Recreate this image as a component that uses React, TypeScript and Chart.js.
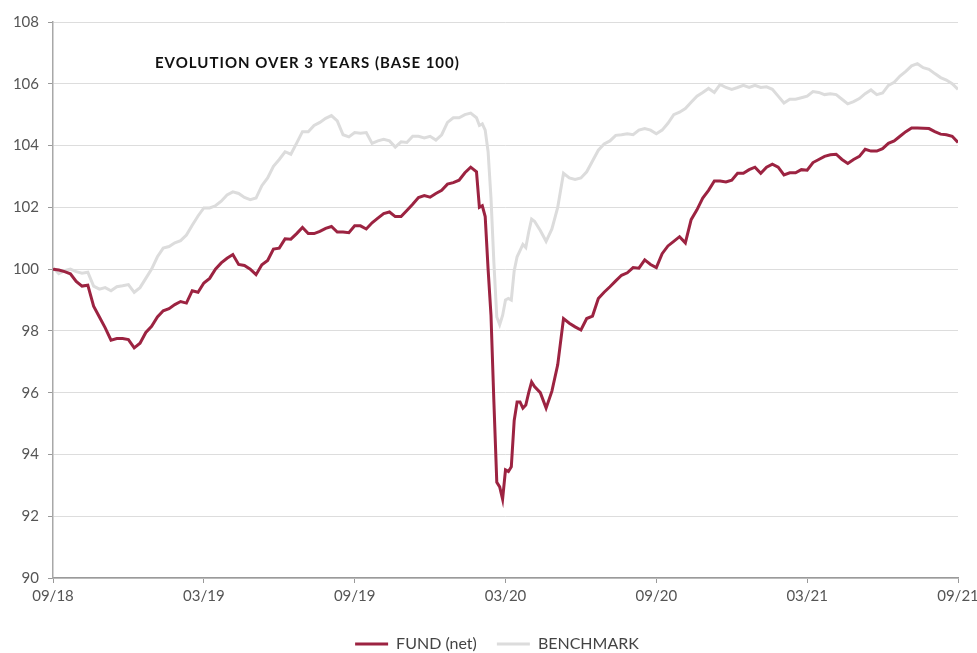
import React, { useEffect, useRef } from 'react';
import { Chart, registerables } from 'chart.js';

Chart.register(...registerables);

// x positions in weeks since 09/18 (half-week points around the March 2020 crash)
const weeks = [
  0, 1, 2, 3, 4, 5, 6, 7, 8, 9,
  10, 11, 12, 13, 14, 15, 16, 17, 18, 19,
  20, 21, 22, 23, 24, 25, 26, 27, 28, 29,
  30, 31, 32, 33, 34, 35, 36, 37, 38, 39,
  40, 41, 42, 43, 44, 45, 46, 47, 48, 49,
  50, 51, 52, 53, 54, 55, 56, 57, 58, 59,
  60, 61, 62, 63, 64, 65, 66, 67, 68, 69,
  70, 71, 72, 73,
  73.5, 74, 74.5, 75, 75.5, 76, 76.5, 77, 77.5, 78,
  78.5, 79, 79.5, 80, 80.5, 81, 81.5, 82, 82.5, 83,
  84, 85, 86, 87, 88, 89, 90, 91, 92, 93,
  94, 95, 96, 97, 98, 99, 100, 101, 102, 103,
  104, 105, 106, 107, 108, 109, 110, 111, 112, 113,
  114, 115, 116, 117, 118, 119, 120, 121, 122, 123,
  124, 125, 126, 127, 128, 129, 130, 131, 132, 133,
  134, 135, 136, 137, 138, 139, 140, 141, 142, 143,
  144, 145, 146, 147, 148, 149, 150, 151, 152, 153,
  154, 155, 156,
];

const fundNet = [
  100.0, 99.97, 99.92, 99.85, 99.6, 99.45, 99.48, 98.8, 98.45, 98.1,
  97.7, 97.75, 97.75, 97.72, 97.45, 97.6, 97.95, 98.15, 98.45, 98.65,
  98.72, 98.85, 98.95, 98.9, 99.3, 99.25, 99.55, 99.7, 100.0, 100.2,
  100.35, 100.47, 100.15, 100.12, 100.0, 99.82, 100.14, 100.28, 100.65, 100.68,
  100.98, 100.97, 101.15, 101.35, 101.15, 101.15, 101.22, 101.32, 101.38, 101.2,
  101.2, 101.18, 101.4, 101.4, 101.3, 101.5, 101.65, 101.8, 101.85, 101.7,
  101.7, 101.9, 102.1, 102.32, 102.38, 102.33, 102.45, 102.55, 102.75, 102.8,
  102.88, 103.12, 103.3, 103.15,
  102.0, 102.05, 101.7, 100.0, 98.5, 95.7, 93.1, 92.95, 92.55, 93.5,
  93.45, 93.6, 95.1, 95.7, 95.7, 95.5, 95.6, 96.0, 96.35, 96.2,
  96.0, 95.5, 96.05, 96.9, 98.4, 98.25, 98.13, 98.03, 98.4, 98.48,
  99.05, 99.25, 99.43, 99.62, 99.8, 99.88, 100.05, 100.03, 100.3, 100.15,
  100.05, 100.5, 100.75, 100.9, 101.05, 100.85, 101.6, 101.92, 102.3, 102.55,
  102.85, 102.85, 102.82, 102.88, 103.1, 103.1, 103.22, 103.3, 103.1, 103.3,
  103.4, 103.3, 103.05, 103.12, 103.12, 103.22, 103.2, 103.45, 103.55, 103.65,
  103.7, 103.72, 103.55, 103.42, 103.55, 103.65, 103.88, 103.82, 103.82, 103.9,
  104.07, 104.15, 104.3, 104.45, 104.57, 104.57, 104.56, 104.55, 104.45, 104.37,
  104.35, 104.3, 104.1,
];

const benchmark = [
  100.05, 99.85, 99.95, 100.0, 99.92, 99.87, 99.9, 99.45, 99.35, 99.4,
  99.3, 99.43, 99.46, 99.5, 99.25, 99.4, 99.7, 100.0, 100.4, 100.68,
  100.73, 100.85, 100.92, 101.1, 101.42, 101.72, 101.98, 101.98, 102.05, 102.2,
  102.4, 102.5, 102.45, 102.32, 102.25, 102.3, 102.7, 102.95, 103.33, 103.55,
  103.8, 103.72, 104.08, 104.45, 104.45, 104.65, 104.75, 104.88, 104.97, 104.8,
  104.35, 104.28, 104.42, 104.4, 104.42, 104.07, 104.15, 104.2, 104.15, 103.95,
  104.12, 104.1, 104.3, 104.3, 104.25, 104.3, 104.18, 104.35, 104.75, 104.9,
  104.9, 105.0, 105.05, 104.9,
  104.65, 104.7, 104.5, 103.8, 102.3, 100.2, 98.45, 98.2, 98.5, 99.0,
  99.05, 99.0, 99.95, 100.4, 100.6, 100.8, 100.7, 101.2, 101.62, 101.55,
  101.25, 100.9, 101.3, 102.0, 103.1, 102.95, 102.9, 102.95, 103.15, 103.5,
  103.85, 104.05, 104.15, 104.33, 104.35, 104.38, 104.35, 104.5, 104.55, 104.5,
  104.38, 104.5, 104.72, 105.0, 105.08, 105.2, 105.4, 105.6, 105.72, 105.85,
  105.72, 105.98, 105.88, 105.82, 105.88, 105.95, 105.88, 105.95, 105.88, 105.9,
  105.82, 105.6, 105.38, 105.5, 105.5, 105.55, 105.6, 105.75, 105.72, 105.65,
  105.68, 105.65, 105.5, 105.35, 105.42, 105.52, 105.68, 105.8, 105.65, 105.7,
  105.95, 106.05, 106.25, 106.4, 106.58, 106.65, 106.52, 106.47, 106.33, 106.2,
  106.12, 106.0, 105.82,
];

const xTickWeeks = [0, 26, 52, 78, 104, 130, 156];
const xTickLabels = ['09/18', '03/19', '09/19', '03/20', '09/20', '03/21', '09/21'];
const yTicks = [90, 92, 94, 96, 98, 100, 102, 104, 106, 108];
const seriesNames = ['FUND (net)', 'BENCHMARK'];
const chartTitle = 'EVOLUTION OVER 3 YEARS (BASE 100)';

const FONT = 'Lato, "Open Sans", sans-serif';

const innerTitle = {
  id: 'innerTitle',
  afterDraw(chart: any) {
    const { ctx, chartArea } = chart;
    ctx.save();
    ctx.font = `bold 15px ${FONT}`;
    ctx.fillStyle = '#111111';
    ctx.textBaseline = 'middle';
    ctx.textAlign = 'left';
    try {
      (ctx as any).letterSpacing = '1px';
    } catch (e) {
      /* ignore */
    }
    ctx.fillText(chartTitle, chartArea.left + 102, chartArea.top + 41);
    ctx.restore();
  },
};

// centre the legend under the plot area rather than the whole canvas
const legendShift = {
  id: 'legendShift',
  afterLayout(chart: any) {
    const lg = chart.legend;
    if (lg) {
      lg.left += chart.chartArea.left - 17;
    }
  },
};

export default function App() {
  const canvasRef = useRef<HTMLCanvasElement | null>(null);

  useEffect(() => {
    document.body.style.margin = '0';
    const canvas = canvasRef.current;
    if (!canvas) return;
    const chart = new Chart(canvas, {
      type: 'line',
      data: {
        datasets: [
          {
            label: seriesNames[0],
            data: weeks.map((w, i) => ({ x: w, y: fundNet[i] })),
            borderColor: '#9c2341',
            backgroundColor: '#9c2341',
            borderWidth: 3,
            pointRadius: 0,
            tension: 0,
          },
          {
            label: seriesNames[1],
            data: weeks.map((w, i) => ({ x: w, y: benchmark[i] })),
            borderColor: '#dcdcdc',
            backgroundColor: '#dcdcdc',
            borderWidth: 3,
            pointRadius: 0,
            tension: 0,
          },
        ],
      },
      options: {
        animation: false,
        responsive: true,
        maintainAspectRatio: false,
        layout: { padding: { top: 22, right: 19, bottom: -9, left: 0 } },
        plugins: {
          legend: {
            position: 'bottom',
            labels: {
              usePointStyle: true,
              pointStyle: 'line',
              pointStyleWidth: 33,
              color: '#444444',
              font: { family: FONT, size: 16 },
              padding: 20,
            },
          },
          tooltip: { enabled: false },
        },
        scales: {
          x: {
            type: 'linear',
            min: 0,
            max: 156,
            afterBuildTicks: (s: any) => {
              s.ticks = xTickWeeks.map((v) => ({ value: v }));
            },
            afterFit: (s: any) => {
              s.height = 38;
              s.paddingRight = 0;
              s.paddingLeft = 0;
            },
            ticks: {
              autoSkip: false,
              maxRotation: 0,
              padding: 4,
              color: '#555555',
              font: { family: FONT, size: 15 },
              callback: (v: any) => {
                const i = xTickWeeks.indexOf(Number(v));
                return i >= 0 ? xTickLabels[i] : '';
              },
            },
            grid: {
              drawOnChartArea: false,
              drawTicks: true,
              tickLength: 5,
              tickColor: '#999999',
            },
            border: { color: '#9a9a9a', width: 1.5 },
          },
          y: {
            min: 90,
            max: 108,
            afterBuildTicks: (s: any) => {
              s.ticks = yTicks.map((v) => ({ value: v }));
            },
            afterFit: (s: any) => {
              s.width = 53;
            },
            ticks: {
              padding: 9,
              color: '#555555',
              font: { family: FONT, size: 15 },
            },
            grid: {
              color: '#dddddd',
              lineWidth: 1,
              tickLength: 5,
              tickColor: '#999999',
            },
            border: { color: '#a8a8a8', width: 1.5 },
          },
        },
      },
      plugins: [innerTitle, legendShift],
    });
    return () => chart.destroy();
  }, []);

  return (
    <div style={{ width: 977, height: 653, position: 'relative' }}>
      <canvas ref={canvasRef} />
    </div>
  );
}
